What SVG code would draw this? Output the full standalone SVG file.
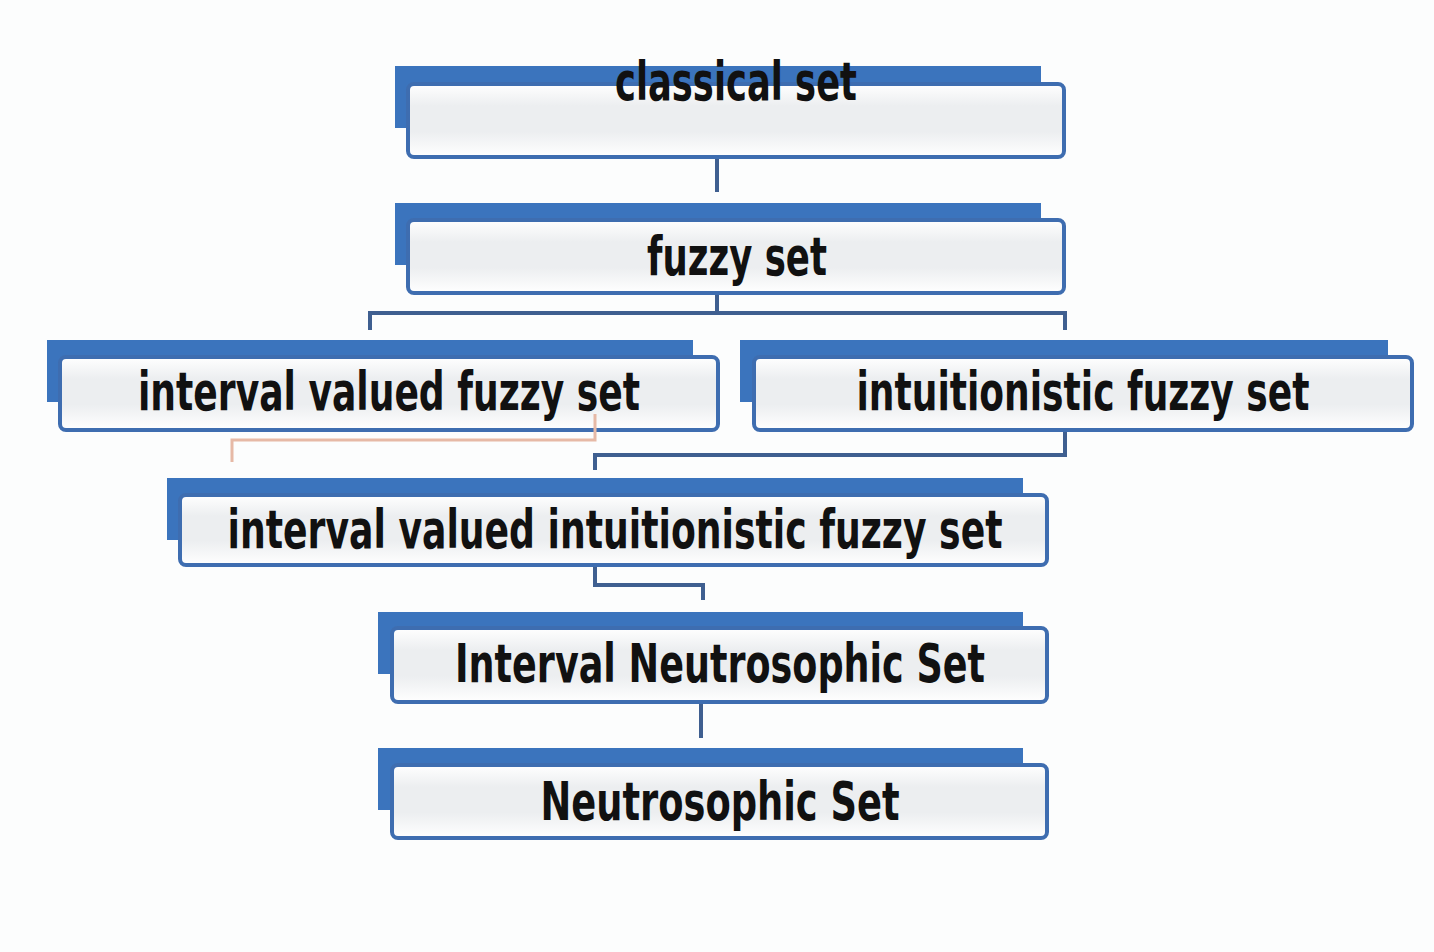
<svg xmlns="http://www.w3.org/2000/svg" width="1434" height="952" viewBox="0 0 1434 952">
<style>
.back{fill:#3b74bd}
.front{fill:url(#g);stroke:#3e6db0;stroke-width:4}
.lbl{font-family:"Liberation Sans Narrow","DejaVu Sans Condensed","Liberation Sans",sans-serif;font-weight:bold;font-size:54px;fill:#111}
.con{fill:none;stroke:#3f5f90;stroke-width:4}
.con2{fill:none;stroke:#e6b9a6;stroke-width:3}
</style>
<defs>
<linearGradient id="g" x1="0" y1="0" x2="0" y2="1">
<stop offset="0" stop-color="#ffffff"/>
<stop offset="0.3" stop-color="#eceef0"/>
<stop offset="0.65" stop-color="#eceef0"/>
<stop offset="1" stop-color="#ffffff"/>
</linearGradient>
</defs>
<rect width="1434" height="952" fill="#fcfdfd"/>
<g id="classical">
<rect class="back" x="395" y="66" width="646" height="62"/>
<rect class="front" x="408" y="84" width="656" height="73" rx="6"/>
<text class="lbl" x="736" y="100" text-anchor="middle" textLength="242" lengthAdjust="spacingAndGlyphs">classical set</text>
</g>
<g id="fuzzy">
<rect class="back" x="395" y="203" width="646" height="62"/>
<rect class="front" x="408" y="220" width="656" height="73" rx="6"/>
<text class="lbl" x="737" y="275" text-anchor="middle" textLength="180" lengthAdjust="spacingAndGlyphs">fuzzy set</text>
</g>
<g id="ivfs">
<rect class="back" x="47" y="340" width="646" height="62"/>
<rect class="front" x="60" y="357" width="658" height="73" rx="6"/>
<text class="lbl" x="389" y="410" text-anchor="middle" textLength="502" lengthAdjust="spacingAndGlyphs">interval valued fuzzy set</text>
</g>
<g id="ifs">
<rect class="back" x="740" y="340" width="648" height="62"/>
<rect class="front" x="754" y="357" width="658" height="73" rx="6"/>
<text class="lbl" x="1083" y="410" text-anchor="middle" textLength="453" lengthAdjust="spacingAndGlyphs">intuitionistic fuzzy set</text>
</g>
<g id="ivifs">
<rect class="back" x="167" y="478" width="856" height="62"/>
<rect class="front" x="180" y="495" width="867" height="70" rx="6"/>
<text class="lbl" x="615" y="548" text-anchor="middle" textLength="775" lengthAdjust="spacingAndGlyphs">interval valued intuitionistic fuzzy set</text>
</g>
<g id="ins">
<rect class="back" x="378" y="612" width="645" height="62"/>
<rect class="front" x="392" y="628" width="655" height="74" rx="6"/>
<text class="lbl" x="720" y="682" text-anchor="middle" textLength="530" lengthAdjust="spacingAndGlyphs">Interval Neutrosophic Set</text>
</g>
<g id="ns">
<rect class="back" x="378" y="748" width="645" height="62"/>
<rect class="front" x="392" y="765" width="655" height="73" rx="6"/>
<text class="lbl" x="720" y="820" text-anchor="middle" textLength="359" lengthAdjust="spacingAndGlyphs">Neutrosophic Set</text>
</g>
<g id="connectors">
<path class="con" d="M717 159V192"/>
<path class="con" d="M717 295V313M370 330V313H1065V330"/>
<path class="con2" d="M595 414V440H232V462"/>
<path class="con" d="M1065 432V455H595V470"/>
<path class="con" d="M595 567V585H703V600"/>
<path class="con" d="M701 704V738"/>
</g>
</svg>
